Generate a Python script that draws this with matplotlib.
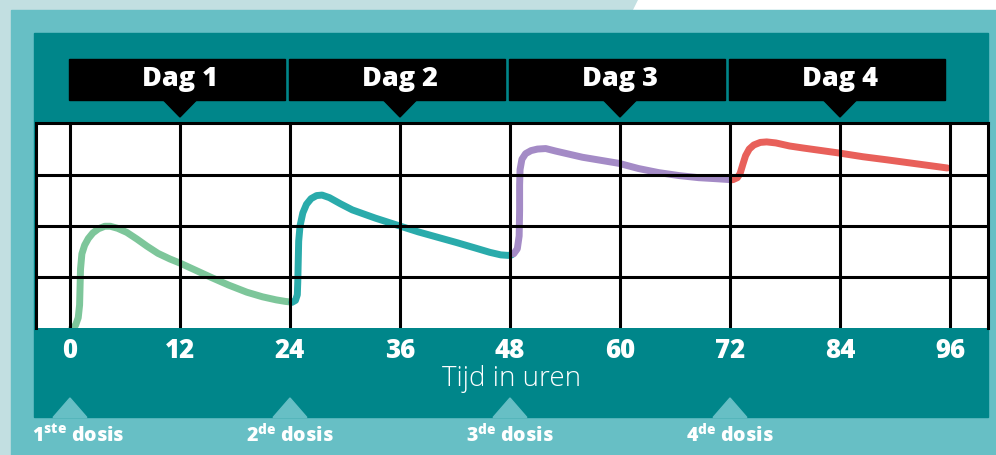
import matplotlib
matplotlib.use("Agg")
import matplotlib.pyplot as plt
from matplotlib.patches import Rectangle, Polygon

plt.rcParams['font.family'] = ['Open Sans', 'Lato', 'DejaVu Sans']
plt.rcParams['mathtext.fontset'] = 'custom'
plt.rcParams['mathtext.bf'] = 'Open Sans:extrabold'
plt.rcParams['mathtext.rm'] = 'Open Sans:extrabold'

# data
hours = [0, 12, 24, 36, 48, 60, 72, 84, 96]
days = ['Dag 1', 'Dag 2', 'Dag 3', 'Dag 4']
day_mid = [12, 36, 60, 84]
dose_hours = [0, 24, 48, 72]
dose_labels = [r'1$^{\mathbf{ste}}$ dosis', r'2$^{\mathbf{de}}$ dosis',
               r'3$^{\mathbf{de}}$ dosis', r'4$^{\mathbf{de}}$ dosis']

green_t = [0.2, 0.6, 0.9, 1.05, 1.1, 1.15, 1.3, 1.6, 2.0, 2.5, 3.1, 3.8, 4.4, 5.2, 6.2, 7.3,
           8.4, 9.6, 10.9, 12.0, 13.7, 15.4, 17.3, 19.3, 21.0, 22.5, 23.5, 24.0]
green_c = [0.0, 0.05, 0.2, 0.45, 0.8, 1.15, 1.45, 1.62, 1.75, 1.86, 1.94, 1.99, 1.99, 1.95, 1.87, 1.74,
           1.6, 1.46, 1.35, 1.27, 1.13, 0.99, 0.84, 0.70, 0.61, 0.55, 0.52, 0.51]
teal_t = [24.2, 24.6, 24.8, 24.85, 24.9, 24.95, 25.1, 25.4, 25.8, 26.3, 26.9, 27.5, 28.3, 29.5,
          30.8, 33.3, 35.9, 38.0, 40.0, 42.2, 44.3, 45.8, 47.0, 47.8, 48.2]
teal_c = [0.50, 0.54, 0.65, 0.9, 1.3, 1.7, 2.0, 2.25, 2.42, 2.53, 2.59, 2.6, 2.55, 2.43,
          2.31, 2.15, 2.0, 1.88, 1.78, 1.67, 1.56, 1.48, 1.43, 1.42, 1.43]
purple_t = [48.4, 48.8, 49.0, 49.05, 49.05, 49.1, 49.3, 49.7, 50.3, 51.0, 51.9, 53.0, 55.9,
            59.9, 62.0, 64.2, 66.5, 68.6, 70.5, 72.2]
purple_c = [1.45, 1.55, 1.8, 2.3, 2.8, 3.1, 3.3, 3.41, 3.47, 3.50, 3.51, 3.46, 3.34,
            3.22, 3.12, 3.04, 2.98, 2.94, 2.92, 2.90]
red_t = [72.3, 72.8, 73.1, 73.4, 73.7, 74.1, 74.6, 75.3, 76.0, 77.0, 78.5, 80.0, 82.0, 84.0,
         86.5, 89.1, 92.4, 95.7]
red_c = [2.90, 2.94, 3.02, 3.2, 3.37, 3.5, 3.58, 3.63, 3.64, 3.62, 3.56, 3.52, 3.47, 3.42,
         3.35, 3.29, 3.21, 3.13]

dark = '#00868a'
mid = '#67bfc5'
light = '#c2dfe1'

W, H = 996, 455
fig = plt.figure(figsize=(W / 100, H / 100), dpi=100)

# background panels
bg = fig.add_axes([0, 0, 1, 1])
bg.set_xlim(0, W)
bg.set_ylim(H, 0)
bg.axis('off')
bg.add_patch(Rectangle((0, 0), W, H, color=light))
bg.add_patch(Polygon([(638, 0), (W, 0), (W, 10), (633, 10)], color='white'))
bg.add_patch(Rectangle((11, 10), W - 11, H - 10, color=mid))
bg.add_patch(Rectangle((34, 33), 988 - 34, 417 - 33, color=dark))

# plot area
left, right, top, bottom = 35.5, 987.5, 123.5, 328
ax = fig.add_axes([left / W, (H - bottom) / H, (right - left) / W, (bottom - top) / H])
ax.set_facecolor('white')
ax.set_xlim(-3.76, 100.09)
ax.set_ylim(0, 4)

lw_curve = 5
for t, c, col in [(green_t, green_c, '#7dc69a'), (teal_t, teal_c, '#2aabab'),
                  (purple_t, purple_c, '#a48bc6'), (red_t, red_c, '#e8605a')]:
    ax.plot(t, c, color=col, lw=lw_curve, solid_capstyle='round',
            solid_joinstyle='round', zorder=2)

for h in hours:
    ax.axvline(h, color='black', lw=2.2, zorder=3)
for v in [1, 2, 3]:
    ax.axhline(v, color='black', lw=2.2, zorder=3)

for s in ['left', 'right', 'top']:
    ax.spines[s].set_linewidth(2.2)
    ax.spines[s].set_zorder(4)
ax.spines['bottom'].set_visible(False)

ax.set_yticks([])
ax.set_xticks(hours)
ax.set_xticklabels([str(h) for h in hours], color='white', fontsize=18.5, fontweight=800)
ax.tick_params(axis='x', length=0, pad=7)

tr = ax.get_xaxis_transform()
hpx = bottom - top

def ay(py):
    return (bottom - py) / hpx

# day header bars with pointers
for i, (d, m) in enumerate(zip(days, day_mid)):
    x0 = 24 * i - 0.1
    x1 = 24 * (i + 1) - 0.5
    ax.add_patch(Rectangle((x0, ay(100)), x1 - x0, ay(59) - ay(100), color='black',
                           transform=tr, clip_on=False))
    ax.add_patch(Polygon([(m - 1.75, ay(100.5)), (m + 1.75, ay(100.5)), (m, ay(117))],
                         color='black', transform=tr, clip_on=False))
    ax.text(m, ay(79), d, color='white', fontsize=19.5, fontweight=800,
            ha='center', va='center', transform=tr)

ax.text(0.5, ay(379), 'Tijd in uren', color='white', fontsize=20, fontweight=300,
        ha='center', va='center', transform=ax.transAxes)

# dose markers
for h, lab in zip(dose_hours, dose_labels):
    ax.add_patch(Polygon([(h - 1.85, ay(417.5)), (h + 1.85, ay(417.5)), (h, ay(398))],
                         color=mid, transform=tr, clip_on=False))
    ax.text(h + (0.9 if h == 0 else 0), ay(436), lab, color='white', fontsize=14,
            fontweight=800, ha='center', va='center', transform=tr)

fig.savefig('out.png', dpi=100)
